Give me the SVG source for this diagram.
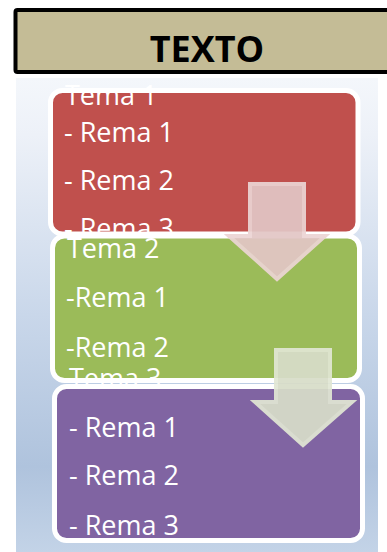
<svg xmlns="http://www.w3.org/2000/svg" width="387" height="552" viewBox="0 0 387 552">
<defs>
<linearGradient id="bg" x1="0" y1="0" x2="0" y2="1">
<stop offset="0" stop-color="#f4f7fb"/>
<stop offset="0.12" stop-color="#edf1f8"/>
<stop offset="0.5" stop-color="#c9d7ea"/>
<stop offset="0.82" stop-color="#afc3dd"/>
<stop offset="1" stop-color="#c3d3e7"/>
</linearGradient>
<clipPath id="c1"><rect x="40" y="80" width="330" height="153"/></clipPath>
<clipPath id="c2"><rect x="40" y="234" width="330" height="150"/></clipPath>
<style>
.box{stroke:#ffffff;stroke-width:5}
.t{font-family:"Open Sans","Noto Sans","Liberation Sans",sans-serif;font-size:27px;fill:#ffffff}
.hdr{font-family:"Open Sans","Liberation Sans",sans-serif;font-size:36px;font-weight:bold;fill:#000000}
.arr{stroke-width:4;stroke-linejoin:miter;opacity:0.93}
</style>
</defs>
<rect x="16" y="78" width="362" height="474" fill="url(#bg)"/>
<g id="header">
<rect x="15.5" y="10" width="380" height="62" rx="2" fill="#c4bc96" stroke="#000000" stroke-width="4"/>
<text class="hdr" x="207" y="62" text-anchor="middle">TEXTO</text>
</g>
<g id="tema1">
<rect class="box" x="50.5" y="90.5" width="307.5" height="143.5" rx="12" fill="#c0504d"/>
<g clip-path="url(#c1)">
<text class="t" x="65" y="105">Tema 1</text>
<text class="t" x="64" y="142">- Rema 1</text>
<text class="t" x="64" y="190">- Rema 2</text>
<text class="t" x="64" y="238">- Rema 3</text>
</g>
</g>
<g id="tema2">
<rect class="box" x="52.5" y="236" width="307" height="144.5" rx="12" fill="#9bbb59"/>
<g clip-path="url(#c2)">
<text class="t" x="67" y="258">Tema 2</text>
<text class="t" x="66" y="307">-Rema 1</text>
<text class="t" x="66" y="357">-Rema 2</text>
<text class="t" x="69" y="388">Tema 3</text>
</g>
</g>
<g id="tema3">
<rect class="box" x="54.5" y="386.5" width="308" height="154" rx="12" fill="#8064a2"/>
<text class="t" x="69" y="437">- Rema 1</text>
<text class="t" x="69" y="485">- Rema 2</text>
<text class="t" x="69" y="535">- Rema 3</text>
</g>
<g id="connectors">
<polygon class="arr" points="250,184 304,184 304,236 325,236 277,279 229,236 250,236" fill="#e2c6c5" stroke="#ecd5d4"/>
<polygon class="arr" points="276,350 330,350 330,402 352,402 303,445 255,402 276,402" fill="#d8ddc9" stroke="#e1e7d4"/>
</g>
</svg>
